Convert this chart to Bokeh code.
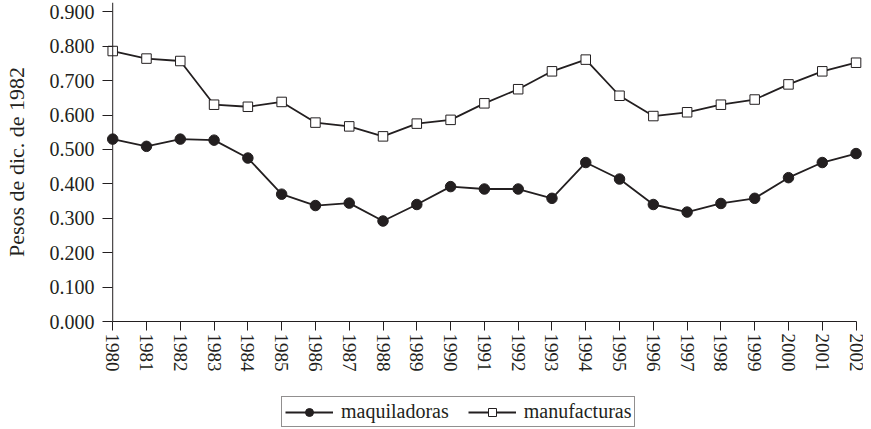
from bokeh.plotting import figure
from bokeh.models import (Range1d, FixedTicker, Span, Legend, LegendItem)
from bokeh.layouts import column
from bokeh.embed import file_html
from bokeh.resources import INLINE

# ---- data ----
years = list(range(1980, 2003))
maquiladoras = [0.530, 0.509, 0.530, 0.527, 0.475, 0.370, 0.337, 0.344, 0.292,
                0.340, 0.392, 0.385, 0.385, 0.358, 0.462, 0.414, 0.340, 0.318,
                0.343, 0.358, 0.418, 0.462, 0.488]
manufacturas = [0.786, 0.764, 0.757, 0.630, 0.624, 0.638, 0.578, 0.567, 0.538,
                0.575, 0.586, 0.634, 0.675, 0.727, 0.761, 0.656, 0.597, 0.608,
                0.630, 0.645, 0.689, 0.727, 0.752]
y_ticks = [0.0, 0.1, 0.2, 0.3, 0.4, 0.5, 0.6, 0.7, 0.8, 0.9]
y_tick_labels = ["0.000", "0.100", "0.200", "0.300", "0.400", "0.500",
                 "0.600", "0.700", "0.800", "0.900"]
series_names = ["maquiladoras", "manufacturas"]
y_title = "Pesos de dic. de 1982"

INK = "#231f20"
FONT = "Liberation Serif"

p = figure(width=863, height=385, output_backend="svg", toolbar_location=None,
           x_range=Range1d(1979.698, 2002.22), y_range=Range1d(0, 0.927),
           min_border_left=92, min_border_right=0, min_border_top=2,
           min_border_bottom=64)
p.outline_line_color = None
p.xgrid.visible = False
p.ygrid.visible = False
p.background_fill_color = "white"
p.border_fill_color = "white"

# y axis (line drawn as a span at 1980)
ya = p.yaxis[0]
ya.ticker = FixedTicker(ticks=y_ticks)
ya.major_label_overrides = {t: l for t, l in zip(y_ticks, y_tick_labels)}
ya.axis_line_color = None
ya.major_tick_in = 10
ya.major_tick_out = 0
ya.major_tick_line_color = INK
ya.minor_tick_line_color = None
ya.major_label_standoff = 8
ya.major_label_text_font = FONT
ya.major_label_text_font_size = "20px"
ya.major_label_text_color = INK
ya.axis_label = y_title
ya.axis_label_text_font = FONT
ya.axis_label_text_font_size = "22px"
ya.axis_label_text_font_style = "normal"
ya.axis_label_text_color = INK
ya.axis_label_standoff = 18

p.add_layout(Span(location=years[0], dimension="height", line_color=INK,
                  line_width=1))

# x axis
xa = p.xaxis[0]
xa.ticker = FixedTicker(ticks=years)
xa.bounds = (years[0], years[-1])
xa.axis_line_color = INK
xa.axis_line_width = 1
xa.major_tick_in = 0
xa.major_tick_out = 9
xa.major_tick_line_color = INK
xa.minor_tick_line_color = None
xa.major_label_orientation = "vertical"
xa.major_label_standoff = 3
xa.major_label_text_font = FONT
xa.major_label_text_font_size = "19px"
xa.major_label_text_color = INK

# series
p.line(years, maquiladoras, line_color=INK, line_width=1.8)
p.scatter(years, maquiladoras, marker="circle", size=10.5,
          fill_color=INK, line_color=INK)
p.line(years, manufacturas, line_color=INK, line_width=1.8)
p.scatter(years, manufacturas, marker="square", size=9.5,
          fill_color="white", line_color=INK, line_width=1)

# legend strip (separate figure below the chart; key glyphs lie outside its view)
lg = figure(width=863, height=44, output_backend="svg", toolbar_location=None,
            x_axis_type=None, y_axis_type=None,
            x_range=Range1d(0, 1), y_range=Range1d(0, 1),
            min_border_left=0, min_border_right=0, min_border_top=0,
            min_border_bottom=0)
lg.outline_line_color = None
lg.xgrid.visible = False
lg.ygrid.visible = False
off_x = [-5, -4]
off_y = [-5, -5]
k1l = lg.line(x=off_x, y=off_y, line_color=INK, line_width=1.8)
k1m = lg.scatter(x=off_x, y=off_y, marker="circle", size=10.5,
                 fill_color=INK, line_color=INK)
k2l = lg.line(x=off_x, y=off_y, line_color=INK, line_width=1.8)
k2m = lg.scatter(x=off_x, y=off_y, marker="square", size=9.5,
                 fill_color="white", line_color=INK, line_width=1)

legend = Legend(items=[LegendItem(label=series_names[0], renderers=[k1l, k1m]),
                       LegendItem(label=series_names[1], renderers=[k2l, k2m])],
                orientation="horizontal", location=(179, 2))
legend.padding = 3
legend.spacing = 19
legend.margin = 0
legend.label_standoff = 8
legend.glyph_width = 48
legend.glyph_height = 20
legend.label_height = 20
legend.label_text_font = FONT
legend.label_text_font_size = "20px"
legend.label_text_color = INK
legend.border_line_color = INK
legend.border_line_width = 1
legend.background_fill_alpha = 1
lg.add_layout(legend, "center")

layout = column(p, lg, spacing=0)
open("out.html", "w").write(file_html(layout, INLINE))
